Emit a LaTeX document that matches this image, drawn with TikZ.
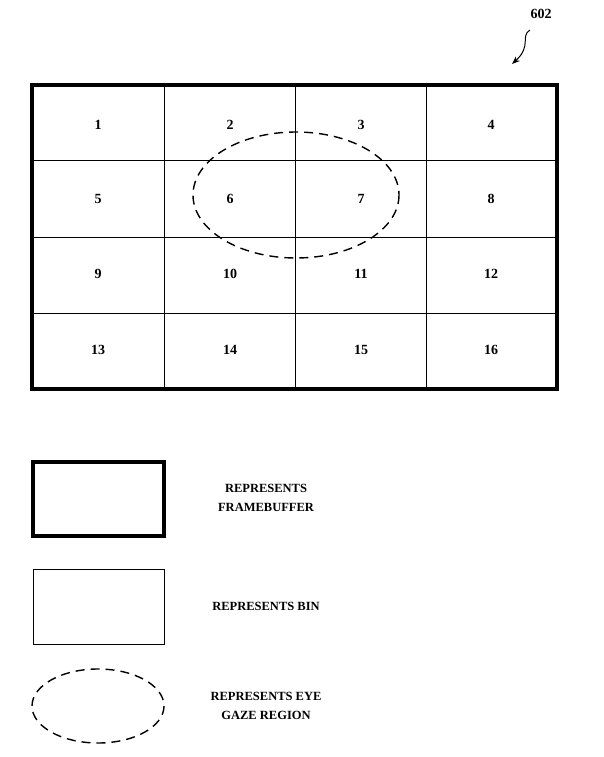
\documentclass[tikz,border=0pt]{standalone}
\usepackage{fontspec}
\setmainfont{Liberation Serif}
\usetikzlibrary{arrows.meta,positioning}
\tikzstyle{num}=[font=\bfseries\fontsize{14}{16}\selectfont]
\tikzstyle{lbl}=[font=\bfseries\fontsize{12.5}{19}\selectfont, align=center]
\tikzstyle{fb}=[line width=4.5pt]
\tikzstyle{bin}=[line width=1pt]
\tikzstyle{gaze}=[line width=1.4pt, dash pattern=on 9pt off 6pt]
\begin{document}
\begin{tikzpicture}[x=1pt,y=-1pt]
    \useasboundingbox (0,0) rectangle (603,757);
    % bins
    \foreach \x in {164,295,426} \draw[bin] (\x,85) -- (\x,389);
    \foreach \y in {160,237,313} \draw[bin] (32,\y) -- (557,\y);
    \draw[fb] (32,85) rectangle (557,389);
    % bin numbers
    \foreach \n/\x/\y in {1/98/125,2/230/125,3/361/125,4/491/125,
                          5/98/199,6/230/199,7/361/199,8/491/199,
                          9/98/274,10/230/274,11/361/274,12/491/274,
                          13/98/350,14/230/350,15/361/350,16/491/350}
        \node[num] (n\n) at (\x,\y) {\n};
    \draw[gaze] (296,195) ellipse (103 and 63);
    % reference numeral
    \node[num] (ref) at (541,14) {602};
    \coordinate (tip) at (512,64);
    \draw[line width=1pt, -{Stealth[length=8pt]}] (530,30) .. controls (520,36) and (532,46) .. (tip);
    % legend
    \draw[fb] (33,462) rectangle (164,536);
    \node[lbl] (lfb) at (266,498) {REPRESENTS\\FRAMEBUFFER};
    \draw[bin] (33,569) rectangle (164,644);
    \node[lbl] (lbin) at (266,606) {REPRESENTS BIN};
    \draw[gaze] (98,706) ellipse (66 and 37);
    \node[lbl] (lgaze) at (266,706) {REPRESENTS EYE\\GAZE REGION};
\end{tikzpicture}
\end{document}
